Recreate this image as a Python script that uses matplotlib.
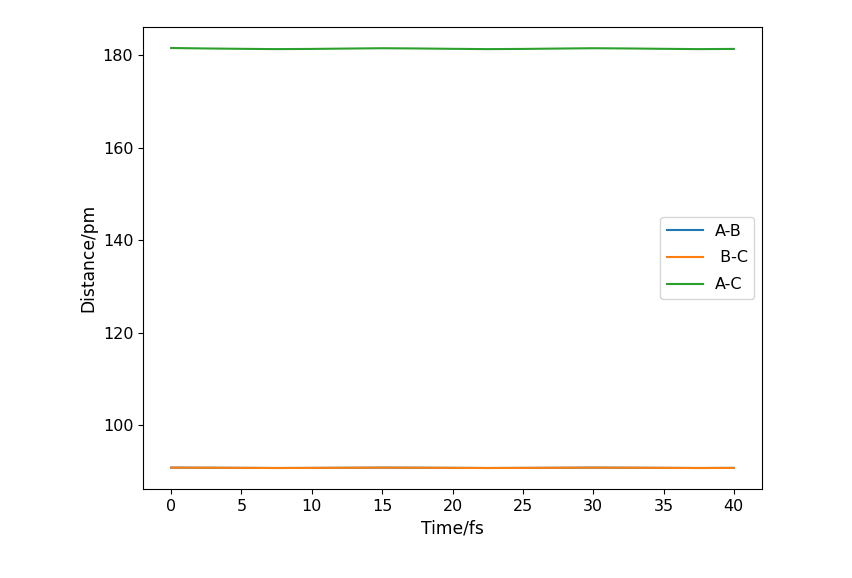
import numpy as np
import matplotlib
matplotlib.use('Agg')
import matplotlib.pyplot as plt

time = [0, 2.5, 5, 7.5, 10, 12.5, 15, 17.5, 20, 22.5, 25, 27.5, 30, 32.5, 35, 37.5, 40]
ab = [90.8, 90.78, 90.75, 90.72, 90.74, 90.77, 90.8, 90.78, 90.75, 90.72, 90.74, 90.77, 90.8, 90.78, 90.75, 90.72, 90.74]
bc = [90.8, 90.78, 90.75, 90.72, 90.74, 90.77, 90.8, 90.78, 90.75, 90.72, 90.74, 90.77, 90.8, 90.78, 90.75, 90.72, 90.74]
ac = [181.6, 181.5, 181.42, 181.36, 181.4, 181.48, 181.55, 181.5, 181.42, 181.36, 181.4, 181.48, 181.55, 181.5, 181.42, 181.36, 181.4]
labels = ['A-B', ' B-C', 'A-C']

matplotlib.rcParams.update({'font.size': 11.5})

fig = plt.figure(figsize=(8.52, 5.78), dpi=100)
ax = fig.add_axes([143/852, 1 - 489/578, (762-143)/852, (489-27)/578])
ax.plot(time, ab, label=labels[0])
ax.plot(time, bc, label=labels[1])
ax.plot(time, ac, label=labels[2])
ax.set_xlabel('Time/fs', fontsize=12.3)
ax.set_ylabel('Distance/pm', fontsize=12.3)
ax.legend(loc='center right', fontsize=11.5, handlelength=2.3, labelspacing=0.75, handletextpad=0.7)

fig.savefig('out.png', dpi=100)
